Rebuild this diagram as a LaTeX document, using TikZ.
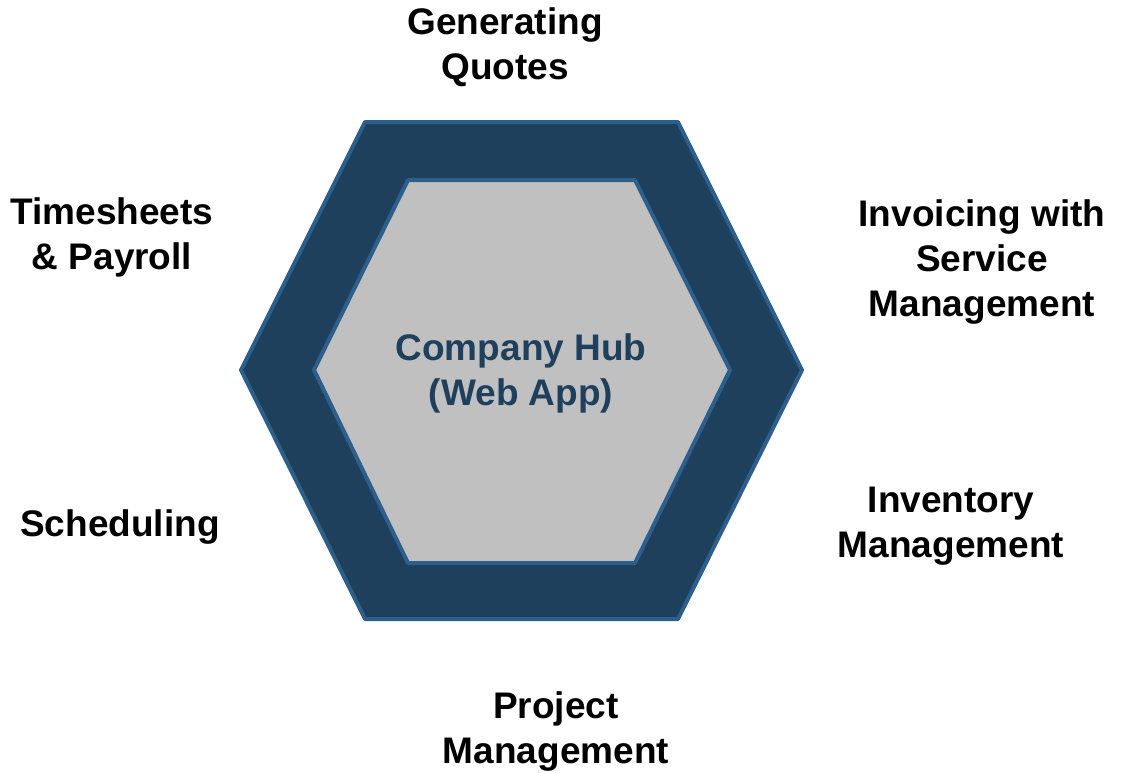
\documentclass[tikz,border=0pt]{standalone}
\usepackage{fontspec}
\setmainfont{Liberation Sans}
\usepackage{xcolor}
\definecolor{hubnavy}{HTML}{1F405D}
\definecolor{hubedge}{HTML}{2C5F8C}
\definecolor{hubgray}{HTML}{C0C0C0}
\tikzset{
  label/.style={font=\fontsize{37}{45}\selectfont\bfseries, align=center, inner sep=0pt},
}
\begin{document}
\begin{tikzpicture}[x=1pt,y=-1pt]
            \useasboundingbox (0,0) rectangle (1122,772);

            \draw[hubedge, line width=4pt, fill=hubnavy, line join=round]
              (365,122) -- (678,122) -- (802,370) -- (678,619) -- (365,619) -- (241,370) -- cycle;
            \draw[hubedge, line width=4pt, fill=hubgray, line join=round]
              (408,180) -- (635,180) -- (730,370) -- (635,563) -- (408,563) -- (314,370) -- cycle;

            \node[label, text=hubnavy] (hub) at (521,373) {Company Hub\\(Web App)};

            \node[label] (quotes) at (505,47) {Generating\\Quotes};
            \node[label] (payroll) at (112,237) {Timesheets\\\& Payroll};
            \node[label] (invoicing) at (982,262) {Invoicing with\\Service\\Management};
            \node[label] (scheduling) at (120,527) {Scheduling};
            \node[label] (inventory) at (951,526) {Inventory\\Management};
            \node[label] (project) at (556,732) {Project\\Management};
        \end{tikzpicture}
\end{document}
